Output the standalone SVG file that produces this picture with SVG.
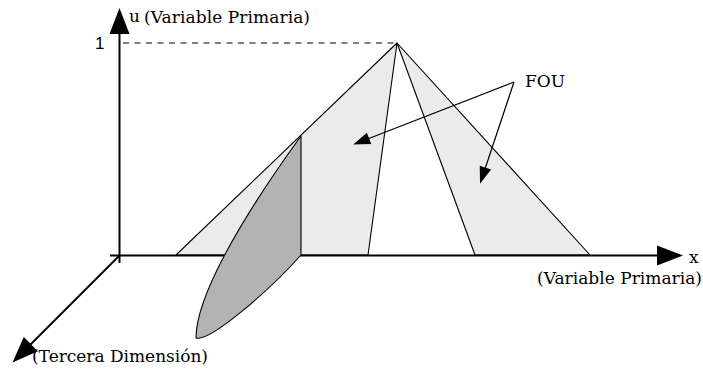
<svg xmlns="http://www.w3.org/2000/svg" width="703" height="369" viewBox="0 0 703 369">
<style>
.lbl{font-family:"DejaVu Serif","Liberation Serif",serif;font-size:17px;fill:#000}
.sans{font-family:"Liberation Sans",Arial,sans-serif;font-size:17px;fill:#000}
.axis{stroke:#000;stroke-width:2;fill:none}
.thin{stroke:#000;stroke-width:1.2;fill:none}
.fou{fill:#ebebeb;stroke:#000;stroke-width:1.1;stroke-linejoin:round}
.slice{fill:#b3b3b3;stroke:#000;stroke-width:1.1;stroke-linejoin:round}
</style>
<defs>
<marker id="big" markerUnits="userSpaceOnUse" markerWidth="26" markerHeight="22" refX="21" refY="10" orient="auto" overflow="visible">
<path d="M0,0 L26,10 L0,20 Z" fill="#000"/>
</marker>
<marker id="small" markerUnits="userSpaceOnUse" markerWidth="17" markerHeight="13" refX="14" refY="6" orient="auto" overflow="visible">
<path d="M0,0 L17,6 L0,12 Z" fill="#000"/>
</marker>
</defs>
<rect width="703" height="369" fill="#fff"/>
<g id="guide">
<line x1="123" y1="43" x2="397" y2="43" stroke="#000" stroke-width="1" stroke-dasharray="6,5.5"/>
<text class="sans" x="95" y="49">1</text>
</g>
<g id="fou-left">
<polygon class="fou" points="176,255 397,43 368,255"/>
</g>
<g id="fou-right">
<polygon class="fou" points="397,43 475,255 590,255"/>
</g>
<g id="connectors">
<line class="axis" x1="110" y1="255.5" x2="678" y2="255.5" marker-end="url(#big)"/>
<line class="axis" x1="119.5" y1="263" x2="119.5" y2="13" marker-end="url(#big)"/>
<line class="axis" x1="119.5" y1="255.5" x2="16" y2="359" marker-end="url(#big)"/>
<line class="thin" x1="514" y1="82" x2="356" y2="143.5" marker-end="url(#small)"/>
<line class="thin" x1="514" y1="82" x2="481" y2="181" marker-end="url(#small)"/>
</g>
<g id="slice">
<path class="slice" d="M301,136 L301,255 C270,290 210,342 196,338 C196,290 256,198 301,136 Z"/>
</g>
<g id="labels">
<text class="lbl" x="129" y="22">u</text>
<text class="lbl" x="144" y="23" textLength="166" lengthAdjust="spacing">(Variable Primaria)</text>
<text class="lbl" x="525" y="87">FOU</text>
<text class="lbl" x="689" y="263">x</text>
<text class="lbl" x="537" y="284" textLength="165" lengthAdjust="spacing">(Variable Primaria)</text>
<text class="lbl" x="32" y="362" textLength="176" lengthAdjust="spacing">(Tercera Dimensión)</text>
</g>
</svg>
